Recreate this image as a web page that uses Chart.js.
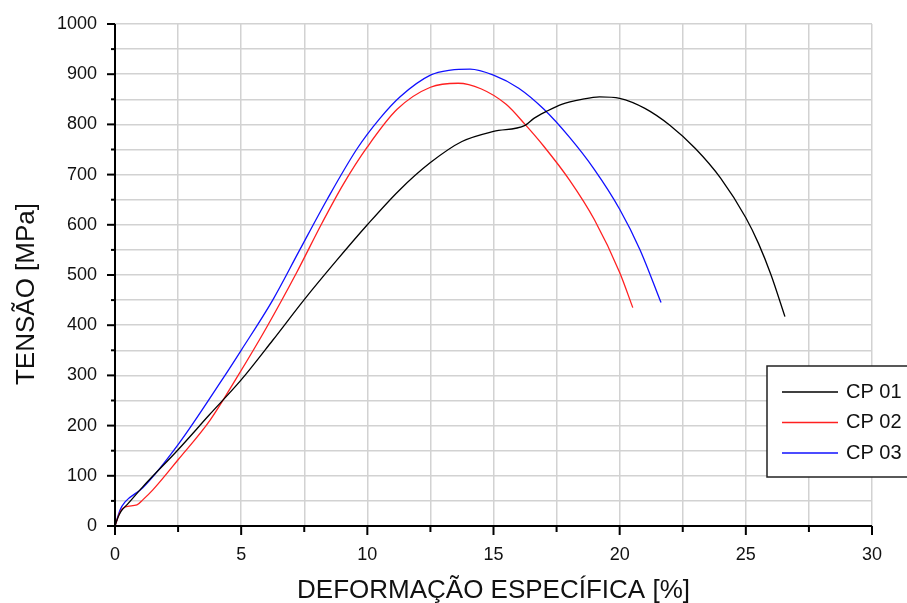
<!DOCTYPE html>
<html>
<head>
<meta charset="utf-8">
<script src="https://cdn.jsdelivr.net/npm/chart.js@4/dist/chart.umd.min.js"></script>
<style>
  body { margin: 0; background: #fff; }
  canvas { display: block; }
</style>
</head>
<body>
<canvas id="grafico" width="907" height="603"></canvas>
<script>
// curvas tensao x deformacao
const cp01X = [0, 0.1, 0.25, 0.47, 1.1, 2.5, 3.75, 5, 6.25, 7.5, 8.75, 10, 11.25, 12.5, 13.75, 15, 16.25, 16.6, 17.1, 17.7, 18.5, 19.2, 20, 21, 22, 23, 24, 25, 25.5, 26, 26.55];
const cp01Y = [0, 15, 30, 42, 78, 152, 222, 291, 370, 451, 527, 600, 668, 724, 766, 786, 798, 812, 826, 840, 850, 855, 852, 832, 798, 752, 693, 614, 563, 500, 417];

const cp02X = [0, 0.1, 0.2, 0.4, 0.87, 1.1, 1.5, 2.5, 3.77, 4.82, 6, 7.2, 8.2, 9.04, 10, 11.18, 12.5, 13.6, 14.5, 15.5, 16.25, 17, 18, 19, 20, 20.52];
const cp02Y = [0, 15, 28, 38, 42, 52, 72, 132, 211, 295, 395, 505, 603, 680, 755, 830, 874, 882, 871, 840, 800, 756, 690, 610, 505, 435];

const cp03X = [0, 0.2, 0.4, 1.1, 2.5, 4.24, 5, 6.25, 7.3, 8.4, 9.6, 10.5, 11.3, 12.5, 13.3, 14.07, 15, 16, 17, 18, 19, 20, 20.8, 21.64];
const cp03Y = [0, 32, 48, 76, 162, 291, 350, 450, 548, 650, 752, 812, 855, 898, 908, 910, 898, 872, 830, 775, 710, 631, 551, 445];

const nomes = ["CP 01", "CP 02", "CP 03"];
const cores = ["#000000", "#ff2020", "#1010ff"];

const pontos = (xs, ys) => xs.map((x, i) => ({ x: x, y: ys[i] }));
const series = [pontos(cp01X, cp01Y), pontos(cp02X, cp02Y), pontos(cp03X, cp03Y)];

const familia = "'Liberation Sans', Arial, sans-serif";

// eixos pretos com marcas maiores/menores, titulo do eixo y e legenda
const eixosPlugin = {
  id: "eixos",
  afterDraw(chart) {
    const ctx = chart.ctx;
    const xs = chart.scales.x, ys = chart.scales.y;
    const a = chart.chartArea;
    ctx.save();
    ctx.strokeStyle = "#000";
    ctx.lineWidth = 2;
    xs.ticks.forEach(t => {
      const px = xs.getPixelForValue(t.value);
      const len = t.value % 5 === 0 ? 9 : 6;
      ctx.beginPath(); ctx.moveTo(px, a.bottom); ctx.lineTo(px, a.bottom + len); ctx.stroke();
    });
    ys.ticks.forEach(t => {
      const py = ys.getPixelForValue(t.value);
      const len = t.value % 100 === 0 ? 8 : 4;
      ctx.beginPath(); ctx.moveTo(a.left, py); ctx.lineTo(a.left - len, py); ctx.stroke();
    });
    ctx.beginPath();
    ctx.moveTo(a.left, a.top); ctx.lineTo(a.left, a.bottom); ctx.lineTo(a.right, a.bottom);
    ctx.stroke();

    // titulo do eixo y
    ctx.save();
    ctx.translate(27, (a.top + a.bottom) / 2 + 19);
    ctx.rotate(-Math.PI / 2);
    ctx.font = "26px " + familia;
    ctx.fillStyle = "#111";
    ctx.textAlign = "center";
    ctx.textBaseline = "middle";
    ctx.fillText("TENSÃO [MPa]", 0, 0);
    ctx.restore();

    // legenda
    const lx = a.right - 105, ly = a.bottom - 160;
    ctx.fillStyle = "#fff";
    ctx.fillRect(lx, ly, 160, 111);
    ctx.lineWidth = 1.5;
    ctx.strokeStyle = "#222";
    ctx.strokeRect(lx, ly, 160, 111);
    ctx.font = "20px " + familia;
    ctx.textBaseline = "middle";
    chart.data.datasets.forEach((ds, i) => {
      const yy = ly + 26 + i * 30.5;
      ctx.strokeStyle = ds.borderColor;
      ctx.lineWidth = 1.3;
      ctx.beginPath(); ctx.moveTo(lx + 15, yy); ctx.lineTo(lx + 71, yy); ctx.stroke();
      ctx.fillStyle = "#111";
      ctx.fillText(ds.label, lx + 79, yy);
    });
    ctx.restore();
  }
};

const fonteTick = { family: familia, size: 18 };

new Chart(document.getElementById("grafico"), {
  type: "line",
  data: {
    datasets: series.map((d, i) => ({
      label: nomes[i],
      data: d,
      borderColor: cores[i],
      borderWidth: 1.3,
      pointRadius: 0,
      fill: false,
      cubicInterpolationMode: "monotone"
    }))
  },
  options: {
    responsive: false,
    animation: false,
    layout: { padding: { top: 24, right: 35, left: 0, bottom: 0 } },
    plugins: { legend: { display: false }, tooltip: { enabled: false } },
    scales: {
      x: {
        type: "linear", min: 0, max: 30,
        afterFit: s => { s.height = 77; s.paddingLeft = 0; s.paddingRight = 0; },
        grid: { color: "#d2d2d2", lineWidth: 1.5, drawTicks: false },
        border: { display: false },
        ticks: {
          stepSize: 2.5, autoSkip: false, maxRotation: 0, padding: 18,
          color: "#111", font: fonteTick,
          callback: v => (v % 5 === 0 ? v : "")
        },
        title: { display: true, text: "DEFORMAÇÃO ESPECÍFICA [%]", color: "#111", font: { family: familia, size: 26 }, padding: { top: 0, bottom: -3 } }
      },
      y: {
        min: 0, max: 1000,
        afterFit: s => { s.width = 115; s.paddingTop = 0; s.paddingBottom = 0; },
        grid: { color: "#d2d2d2", lineWidth: 1.5, drawTicks: false },
        border: { display: false },
        ticks: {
          stepSize: 50, autoSkip: false, padding: 18,
          color: "#111", font: fonteTick,
          callback: v => (v % 100 === 0 ? v : "")
        }
      }
    }
  },
  plugins: [eixosPlugin]
});
</script>
</body>
</html>
